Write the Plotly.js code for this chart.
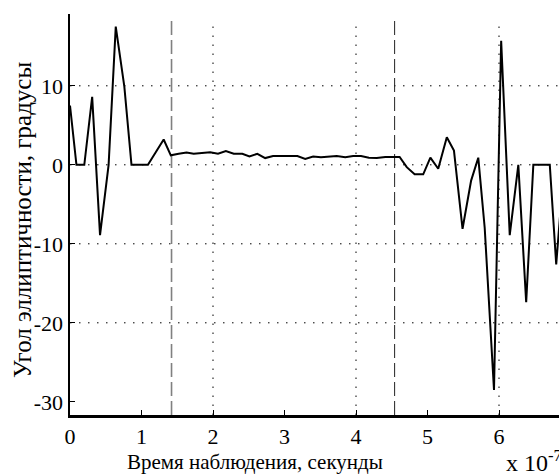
<!DOCTYPE html>
<html>
<head>
<meta charset="utf-8">
<script src="https://cdn.plot.ly/plotly-3.0.1.min.js"></script>
<style>html,body{margin:0;padding:0;background:#fff;}#chart{width:559px;height:474px;}</style>
</head>
<body>
<div id="chart"></div>
<script>
// time, units of 1e-7 s
var timeVals = [0, 0.09, 0.20, 0.31, 0.42, 0.54, 0.64, 0.76, 0.86, 0.97, 1.09, 1.31, 1.41,
  1.52, 1.63, 1.73, 1.85, 1.96, 2.07, 2.18, 2.29, 2.41, 2.51, 2.62, 2.73, 2.84, 2.95,
  3.06, 3.18, 3.29, 3.40, 3.51, 3.62, 3.73, 3.85, 3.96, 4.07, 4.18, 4.29, 4.41, 4.52,
  4.61, 4.71, 4.82, 4.94, 5.04, 5.15, 5.27, 5.37, 5.49, 5.61, 5.71, 5.80, 5.93, 6.03,
  6.15, 6.27, 6.38, 6.48, 6.59, 6.71, 6.80, 6.91];
// ellipticity angle, degrees
var angleVals = [7.5, 0, 0, 8.6, -8.9, 0, 17.5, 9.9, 0, 0, 0, 3.2, 1.2,
  1.4, 1.55, 1.4, 1.55, 1.6, 1.4, 1.75, 1.4, 1.4, 1.05, 1.4, 0.85, 1.1, 1.1,
  1.1, 1.1, 0.75, 1.05, 0.95, 1.0, 1.1, 0.95, 1.1, 1.1, 0.9, 0.85, 1.0, 1.0,
  1.0, -0.3, -1.2, -1.2, 0.9, -0.5, 3.5, 1.8, -8.1, -2.0, 0.9, -8.0, -28.5, 15.7,
  -8.9, 0, -17.4, 0, 0, 0, -12.6, 0];
var yTickVals = [-30, -20, -10, 0, 10];
var xTickVals = [0, 1, 2, 3, 4, 5, 6];
var xGrid = [2, 4, 6];
var yGrid = [-20, -10, 0, 10];
var markerTimes = [1.42, 4.54];

var xTitle = 'Время наблюдения, секунды';
var yTitle = 'Угол эллиптичности, градусы';

var FONT = 'Liberation Serif, Times New Roman, serif';

var shapes = [];
xGrid.forEach(function (v) {
  shapes.push({type: 'line', xref: 'x', yref: 'paper', x0: v, x1: v, y0: 0, y1: 0.985,
    line: {color: '#000', width: 1, dash: '1.5px,7.5px'}, layer: 'below'});
});
yGrid.forEach(function (v) {
  shapes.push({type: 'line', xref: 'paper', yref: 'y', x0: 0, x1: 1, y0: v, y1: v,
    line: {color: '#000', width: 1, dash: '1.5px,7.5px'}, layer: 'below'});
});
shapes.push({type: 'line', xref: 'x', yref: 'paper', x0: markerTimes[0], x1: markerTimes[0], y0: 0, y1: 0.985,
  line: {color: '#808080', width: 1.6, dash: '14px,5px'}, layer: 'below'});
shapes.push({type: 'line', xref: 'x', yref: 'paper', x0: markerTimes[1], x1: markerTimes[1], y0: 0, y1: 0.985,
  line: {color: '#222', width: 1, dash: '14px,5px'}, layer: 'below'});

var trace = {
  x: timeVals, y: angleVals, type: 'scatter', mode: 'lines',
  line: {color: '#000', width: 2}, hoverinfo: 'skip'
};

var layout = {
  width: 559, height: 474,
  margin: {l: 70, r: 0, t: 14, b: 59, pad: 0},
  paper_bgcolor: '#fff', plot_bgcolor: '#fff',
  showlegend: false,
  font: {family: FONT, size: 22, color: '#000'},
  xaxis: {
    range: [0, 6.839], tickvals: xTickVals, ticktext: xTickVals.map(String),
    showgrid: false, zeroline: false, showline: true, linecolor: '#000', linewidth: 2.5,
    ticks: 'inside', ticklen: 5, tickcolor: '#000', tickwidth: 1,
    tickfont: {family: FONT, size: 22, color: '#000'}
  },
  yaxis: {
    range: [-31.67, 19.09], tickvals: yTickVals, ticktext: yTickVals.map(String),
    showgrid: false, zeroline: false, showline: true, linecolor: '#000', linewidth: 2.5,
    ticks: 'inside', ticklen: 5, tickcolor: '#000', tickwidth: 1,
    tickfont: {family: FONT, size: 22, color: '#000'}
  },
  shapes: shapes,
  annotations: [
    {text: yTitle, xref: 'paper', yref: 'paper', x: 0, xshift: -48, y: (415 - 220) / 401,
      textangle: -90, xanchor: 'center', yanchor: 'middle', showarrow: false,
      font: {family: FONT, size: 25, color: '#000'}},
    {text: xTitle, xref: 'paper', yref: 'paper', x: (255 - 70) / 489, y: 0, yshift: -47,
      xanchor: 'center', yanchor: 'middle', showarrow: false,
      font: {family: FONT, size: 21, color: '#000'}},
    {text: 'x 10<sup>-7</sup>', xref: 'paper', yref: 'paper', x: (504 - 70) / 489, y: 0, yshift: -46,
      xanchor: 'left', yanchor: 'middle', showarrow: false,
      font: {family: FONT, size: 24, color: '#000'}}
  ]
};

Plotly.newPlot('chart', [trace], layout, {staticPlot: true, displayModeBar: false});
</script>
</body>
</html>
